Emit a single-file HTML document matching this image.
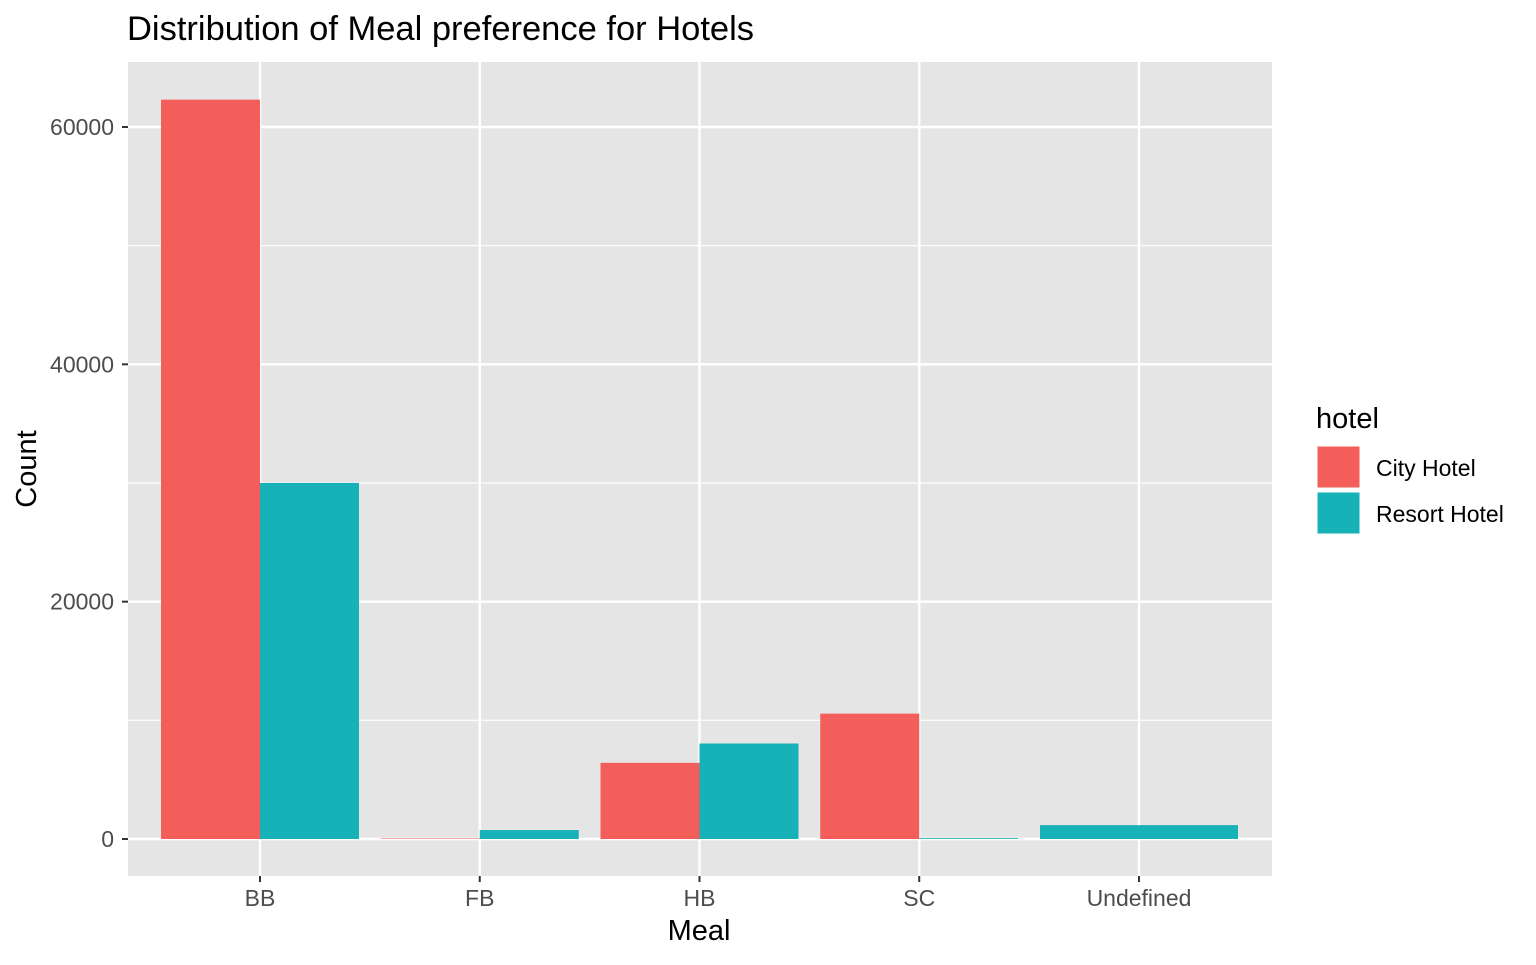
<!DOCTYPE html>
<html><head><meta charset="utf-8"><style>
body{margin:0;background:#fff;font-family:"Liberation Sans",Arial,sans-serif;}
</style></head><body>
<svg width="1536" height="960" xmlns="http://www.w3.org/2000/svg">
<text x="127" y="40" font-size="34.5" fill="#000">Distribution of Meal preference for Hotels</text>
<rect x="128" y="62" width="1144" height="814" fill="#e5e5e5"/>
<g id="grid"></g>
<g id="bars"></g>
<g id="axes"></g>
<text x="699" y="940" font-size="29" text-anchor="middle">Meal</text>
<text transform="translate(36,469) rotate(-90)" font-size="29" text-anchor="middle">Count</text>
<g>
<text x="1316" y="428" font-size="29">hotel</text>
<rect x="1317" y="446" width="43" height="42" fill="#f35e5a" stroke="#fff"/>
<text x="1376" y="476" font-size="23">City Hotel</text>
<rect x="1317" y="492" width="43" height="42" fill="#17b2b7" stroke="#fff"/>
<text x="1376" y="522" font-size="23">Resort Hotel</text>
</g>
</svg>
<script>
const categories=["BB","FB","HB","SC","Undefined"];
const cityValues=[62305,44,6417,10564,0];
const resortValues=[30005,754,8047,69,1169];
const yTicks=[0,20000,40000,60000];
const yMinor=[10000,30000,50000];
const NS="http://www.w3.org/2000/svg";
const y=v=>839-v*(712/60000);
const xc=i=>260+i*219.75;
function mk(parent,tag,attrs){const e=document.createElementNS(NS,tag);for(const k in attrs)e.setAttribute(k,attrs[k]);document.getElementById(parent).appendChild(e);return e;}
yMinor.forEach(v=>{const l=mk('grid','line',{x1:128,x2:1272,y1:y(v),y2:y(v),stroke:'#fff','stroke-width':1.2});

});
yTicks.forEach(v=>{const l=mk('grid','line',{x1:128,x2:1272,y1:y(v),y2:y(v),stroke:'#fff','stroke-width':2.4});


const t=mk('axes','text',{x:114,y:y(v)+8,'font-size':23,'text-anchor':'end',fill:'#4d4d4d'});t.textContent=v;


mk('axes','line',{x1:122,x2:128,y1:y(v),y2:y(v),stroke:'#333','stroke-width':2});});
categories.forEach((c,i)=>{const l=mk('grid','line',{x1:xc(i),x2:xc(i),y1:62,y2:876,stroke:'#fff','stroke-width':2.4});


const t=mk('axes','text',{x:xc(i),y:906,'font-size':23,'text-anchor':'middle',fill:'#4d4d4d'});t.textContent=c;


mk('axes','line',{x1:xc(i),x2:xc(i),y1:876,y2:882,stroke:'#333','stroke-width':2});
const w=99;
const hasC=cityValues[i]>0,hasR=resortValues[i]>0;
if(hasC&&hasR){
const a=mk('bars','rect',{x:xc(i)-w,y:y(cityValues[i]),width:w,height:y(0)-y(cityValues[i]),fill:'#f35e5a'});


const b=mk('bars','rect',{x:xc(i),y:y(resortValues[i]),width:w,height:y(0)-y(resortValues[i]),fill:'#17b2b7'});


}else if(hasC){
const a=mk('bars','rect',{x:xc(i)-w,y:y(cityValues[i]),width:2*w,height:y(0)-y(cityValues[i]),fill:'#f35e5a'});


}else if(hasR){
const b=mk('bars','rect',{x:xc(i)-w,y:y(resortValues[i]),width:2*w,height:y(0)-y(resortValues[i]),fill:'#17b2b7'});


}});
</script>
</body></html>
